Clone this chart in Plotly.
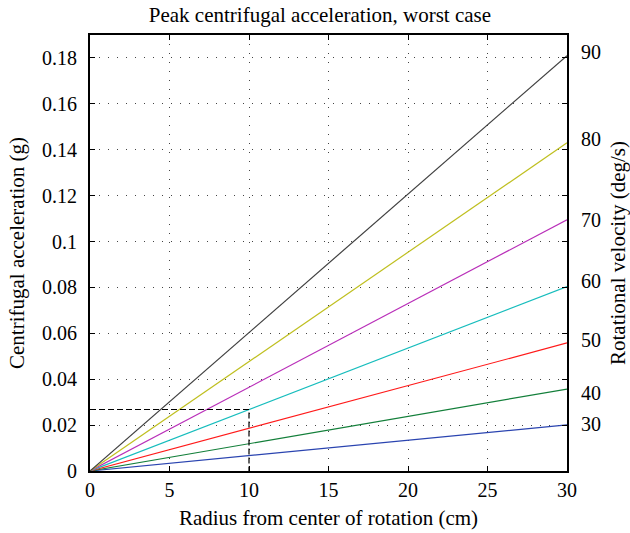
import plotly.graph_objects as go

radius_end = 30
velocities = [30, 40, 50, 60, 70, 80, 90]
accel_at_30cm = [0.0201, 0.0357, 0.0558, 0.0804, 0.1095, 0.1430, 0.1810]
velocity_label_pos = [0.0203, 0.0338, 0.0569, 0.0830, 0.1096, 0.1448, 0.1825]
colors = ["#2a44b0", "#137f3a", "#ff1a1a", "#17bdbd", "#b92fb9", "#bfbf1f", "#404040"]
marker_level = 0.0268
marker_radius = 10
y_ticks = [0, 0.02, 0.04, 0.06, 0.08, 0.1, 0.12, 0.14, 0.16, 0.18]
y_ticktext = ["0", "0.02", "0.04", "0.06", "0.08", "0.1", "0.12", "0.14", "0.16", "0.18"]
x_ticks = [0, 5, 10, 15, 20, 25, 30]

FONT = "Liberation Serif"
TICK = 20
TITLE = 21
fig = go.Figure()

for v, a, c in zip(velocities, accel_at_30cm, colors):
    fig.add_trace(go.Scatter(x=[0, radius_end], y=[0, a], mode="lines",
                             line=dict(color=c, width=1.2), name=f"{v} deg/s",
                             showlegend=False, hoverinfo="skip"))

fig.add_trace(go.Scatter(x=[0, marker_radius, marker_radius], y=[marker_level, marker_level, 0],
                         mode="lines", line=dict(color="black", width=1.2, dash="6px,3px"),
                         showlegend=False, hoverinfo="skip"))

# invisible trace to activate right axis
fig.add_trace(go.Scatter(x=[0], y=[0], yaxis="y2", mode="markers",
                         marker=dict(opacity=0), showlegend=False, hoverinfo="skip"))

fig.update_layout(
    width=630, height=533,
    margin=dict(l=90, r=63, t=35, b=62, autoexpand=False),
    paper_bgcolor="white", plot_bgcolor="white",
    font=dict(family=FONT, size=TICK, color="black"),
    title=dict(text="Peak centrifugal acceleration, worst case", x=0.482, xref="paper",
               xanchor="center", y=0.972, yref="container", yanchor="middle",
               font=dict(family=FONT, size=TITLE, color="black")),
    xaxis=dict(range=[0, 30], tickvals=x_ticks, showline=True, linecolor="black", linewidth=2,
               mirror="ticks", ticks="inside", ticklen=5, tickcolor="black",
               showgrid=True, gridcolor="#444444", griddash="1px,8px", gridwidth=1,
               zeroline=False, automargin=False, tickfont=dict(family=FONT, size=TICK),
               title=dict(text="Radius from center of rotation (cm)", standoff=10,
                          font=dict(family=FONT, size=TITLE))),
    yaxis=dict(range=[0, 0.19], tickvals=y_ticks, ticktext=y_ticktext, showline=True,
               linecolor="black", linewidth=2, mirror="ticks", ticks="inside", ticklen=5,
               tickcolor="black", showgrid=True, gridcolor="#444444", griddash="1px,8px",
               gridwidth=1, zeroline=False, ticklabelstandoff=7, automargin=False,
               tickfont=dict(family=FONT, size=TICK),
               title=dict(text="Centrifugal acceleration (g)", standoff=12,
                          font=dict(family=FONT, size=TITLE))),
    yaxis2=dict(range=[0, 0.19], overlaying="y", side="right", tickvals=velocity_label_pos,
                ticktext=[str(v) for v in velocities], showgrid=False, zeroline=False,
                showline=False, ticks="outside", ticklen=9, tickcolor="rgba(0,0,0,0)",
                automargin=False, tickfont=dict(family=FONT, size=TICK),
                title=dict(text="Rotational velocity (deg/s)", standoff=10,
                           font=dict(family=FONT, size=TITLE))),
)

fig.write_html("out.html", config={"displayModeBar": False},
               post_script="document.body.style.margin='0px';")
